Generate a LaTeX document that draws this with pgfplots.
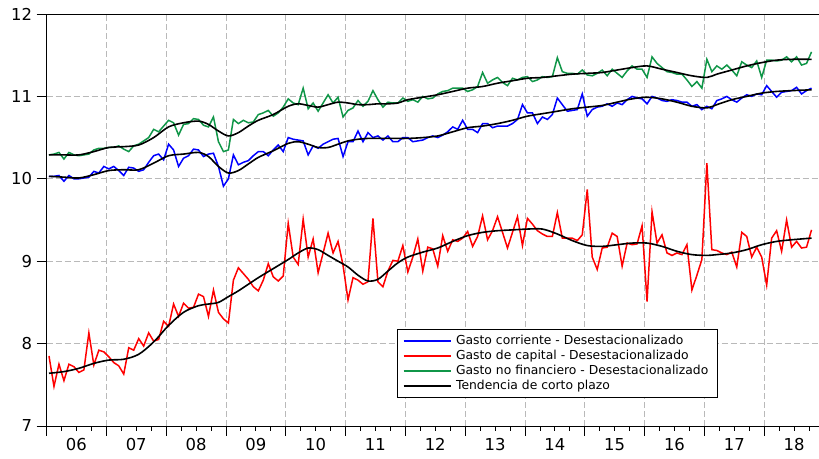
\documentclass[border=0pt]{standalone}
\usepackage{fontspec}
\setmainfont{DejaVu Sans}
\usepackage{pgfplots}
\usepackage{pgfplotstable}
\pgfplotsset{compat=1.18}
\definecolor{cblue}{RGB}{0,0,255}
\definecolor{cred}{RGB}{255,0,0}
\definecolor{cgreen}{RGB}{16,150,72}

\pgfplotstableread{
m b r g
0 10.03 7.85 10.29
1 10.03 7.48 10.30
2 10.04 7.75 10.32
3 9.97 7.55 10.24
4 10.04 7.75 10.32
5 10.00 7.72 10.29
6 10.00 7.65 10.28
7 10.01 7.68 10.29
8 10.02 8.13 10.30
9 10.09 7.74 10.35
10 10.07 7.92 10.37
11 10.15 7.90 10.37
12 10.12 7.84 10.38
13 10.15 7.77 10.38
14 10.10 7.73 10.40
15 10.04 7.63 10.36
16 10.14 7.95 10.33
17 10.13 7.92 10.40
18 10.09 8.06 10.42
19 10.11 7.97 10.46
20 10.20 8.13 10.50
21 10.28 8.03 10.60
22 10.30 8.05 10.57
23 10.23 8.27 10.64
24 10.42 8.21 10.71
25 10.35 8.48 10.68
26 10.15 8.33 10.53
27 10.25 8.49 10.66
28 10.28 8.43 10.67
29 10.36 8.44 10.73
30 10.35 8.60 10.72
31 10.27 8.57 10.65
32 10.30 8.33 10.63
33 10.31 8.65 10.75
34 10.15 8.38 10.45
35 9.91 8.30 10.33
36 10.00 8.25 10.35
37 10.29 8.77 10.72
38 10.17 8.92 10.67
39 10.20 8.85 10.71
40 10.22 8.78 10.68
41 10.28 8.69 10.69
42 10.33 8.64 10.78
43 10.33 8.77 10.80
44 10.28 8.97 10.83
45 10.35 8.81 10.76
46 10.41 8.76 10.80
47 10.33 8.82 10.87
48 10.50 9.46 10.97
49 10.48 9.05 10.92
50 10.47 8.96 10.90
51 10.46 9.51 11.10
52 10.29 9.05 10.85
53 10.40 9.27 10.92
54 10.37 8.86 10.82
55 10.42 9.10 10.92
56 10.45 9.34 11.02
57 10.48 9.10 10.92
58 10.49 9.24 10.99
59 10.27 8.95 10.75
60 10.45 8.53 10.83
61 10.45 8.80 10.86
62 10.58 8.77 10.95
63 10.45 8.72 10.88
64 10.56 8.75 10.94
65 10.50 9.52 11.07
66 10.52 8.75 10.96
67 10.47 8.69 10.87
68 10.52 8.88 10.93
69 10.45 9.01 10.92
70 10.45 9.00 10.92
71 10.50 9.19 10.98
72 10.50 8.87 10.94
73 10.45 9.05 10.96
74 10.46 9.27 10.93
75 10.47 8.88 11.00
76 10.50 9.17 10.97
77 10.52 9.15 10.98
78 10.50 8.94 11.03
79 10.53 9.31 11.06
80 10.57 9.12 11.07
81 10.63 9.26 11.10
82 10.60 9.24 11.10
83 10.71 9.28 11.10
84 10.60 9.36 11.06
85 10.60 9.18 11.08
86 10.56 9.30 11.12
87 10.67 9.55 11.29
88 10.67 9.26 11.16
89 10.62 9.37 11.20
90 10.64 9.54 11.23
91 10.64 9.35 11.17
92 10.64 9.16 11.13
93 10.67 9.35 11.22
94 10.72 9.54 11.20
95 10.90 9.19 11.23
96 10.80 9.52 11.24
97 10.80 9.45 11.18
98 10.67 9.37 11.20
99 10.75 9.33 11.24
100 10.72 9.30 11.23
101 10.78 9.30 11.24
102 10.98 9.59 11.47
103 10.90 9.28 11.30
104 10.82 9.28 11.28
105 10.83 9.28 11.28
106 10.84 9.25 11.27
107 11.03 9.32 11.32
108 10.76 9.87 11.26
109 10.84 9.05 11.25
110 10.87 8.90 11.28
111 10.88 9.16 11.32
112 10.91 9.17 11.25
113 10.88 9.34 11.33
114 10.92 9.30 11.28
115 10.90 8.94 11.23
116 10.96 9.22 11.31
117 11.00 9.20 11.37
118 10.98 9.21 11.33
119 10.97 9.43 11.33
120 10.91 8.51 11.23
121 11.00 9.60 11.48
122 10.98 9.22 11.40
123 10.95 9.32 11.35
124 10.94 9.10 11.30
125 10.96 9.07 11.29
126 10.95 9.10 11.27
127 10.93 9.08 11.27
128 10.93 9.20 11.20
129 10.88 8.65 11.12
130 10.90 8.83 11.18
131 10.84 9.02 11.10
132 10.88 10.19 11.45
133 10.85 9.14 11.30
134 10.95 9.13 11.37
135 10.97 9.10 11.33
136 11.00 9.08 11.38
137 10.96 9.11 11.32
138 10.93 8.93 11.25
139 10.98 9.35 11.42
140 11.02 9.30 11.38
141 11.00 9.05 11.35
142 11.03 9.17 11.43
143 11.02 9.05 11.23
144 11.13 8.71 11.44
145 11.06 9.28 11.44
146 10.99 9.37 11.43
147 11.05 9.12 11.44
148 11.06 9.50 11.48
149 11.07 9.17 11.42
150 11.11 9.24 11.48
151 11.03 9.16 11.38
152 11.07 9.17 11.40
153 11.10 9.38 11.54
}\datatab

\pgfplotstableread{
m bt rt gt
0 10.03 7.64 10.29
3 10.02 7.66 10.29
6 10.01 7.70 10.29
9 10.05 7.76 10.33
12 10.10 7.80 10.38
15 10.11 7.81 10.39
18 10.11 7.87 10.41
21 10.19 8.02 10.50
24 10.28 8.22 10.63
27 10.30 8.38 10.68
30 10.32 8.46 10.70
32 10.27 8.48 10.66
34 10.15 8.50 10.58
36 10.07 8.57 10.52
38 10.10 8.64 10.56
40 10.18 8.72 10.64
42 10.26 8.80 10.71
45 10.34 8.91 10.78
48 10.43 9.02 10.88
50 10.45 9.10 10.91
52 10.42 9.16 10.89
54 10.38 9.14 10.87
56 10.38 9.07 10.90
58 10.42 9.00 10.93
60 10.46 8.93 10.92
62 10.48 8.83 10.90
64 10.49 8.76 10.90
66 10.49 8.78 10.91
68 10.49 8.88 10.91
70 10.49 8.98 10.92
72 10.49 9.05 10.96
75 10.50 9.11 10.99
78 10.52 9.16 11.02
81 10.57 9.24 11.06
84 10.62 9.31 11.10
87 10.64 9.35 11.12
90 10.67 9.37 11.16
93 10.71 9.38 11.19
96 10.76 9.39 11.22
99 10.79 9.39 11.23
102 10.82 9.33 11.25
105 10.85 9.25 11.27
108 10.87 9.19 11.28
111 10.89 9.18 11.29
114 10.93 9.20 11.32
117 10.97 9.22 11.35
120 10.99 9.22 11.37
123 10.97 9.18 11.33
126 10.93 9.12 11.29
129 10.88 9.08 11.25
132 10.86 9.07 11.23
134 10.90 9.08 11.27
137 10.96 9.10 11.32
140 11.00 9.14 11.37
143 11.04 9.20 11.41
146 11.06 9.24 11.44
149 11.07 9.26 11.45
153 11.08 9.28 11.45
}\trendtab

\begin{document}
\begin{tikzpicture}
\begin{axis}[
  scale only axis,
  width=772.5bp, height=412bp,
  xmin=-0.5, xmax=154.5, ymin=7, ymax=12,
  axis x line*=bottom, axis y line*=left,
  axis line style={black, line width=0.9pt},
  xtick={-0.5,11.5,...,143.5},
  xticklabels={},
  minor xtick={2.5,5.5,...,152.5},
  ytick={7,8,...,12},
  tick align=outside,
  major tick length=10bp, minor tick length=5bp,
  tick style={black, line width=0.8pt},
  xmajorgrids, ymajorgrids,
  grid style={dash pattern=on 6bp off 3bp, gray!55, line width=0.7pt},
  ticklabel style={font=\fontsize{16.5}{16.5}\selectfont},
  /pgf/number format/assume math mode=true,
  yticklabel style={xshift=-1bp},
  extra x ticks={5.5,17.5,...,149.5},
  extra x tick labels={06,07,08,09,10,11,12,13,14,15,16,17,18},
  extra x tick style={major tick length=0pt, grid=none,
     tick label style={yshift=-9bp}},
  clip=false,
  legend style={at={(0.454,0.235)}, anchor=north west, draw=black,
     line width=0.7pt, fill=white,
     font=\fontsize{12.4}{15.3}\selectfont,
     inner xsep=5bp, inner ysep=4bp, row sep=0bp,
     legend cell align=left,
     nodes={inner xsep=4.5bp}},
  legend image code/.code={\draw[#1, line width=2bp] (0bp,0bp) -- (47bp,0bp);},
]
\addplot[cblue, line width=1.5bp] table[x=m, y=b] {\datatab};
\addlegendentry{Gasto corriente - Desestacionalizado}
\addplot[cred, line width=1.5bp] table[x=m, y=r] {\datatab};
\addlegendentry{Gasto de capital - Desestacionalizado}
\addplot[cgreen, line width=1.5bp] table[x=m, y=g] {\datatab};
\addlegendentry{Gasto no financiero - Desestacionalizado}
\addplot[black, line width=1.6bp, smooth] table[x=m, y=bt] {\trendtab};
\addlegendentry{Tendencia de corto plazo}
\addplot[black, line width=1.6bp, smooth, forget plot] table[x=m, y=rt] {\trendtab};
\addplot[black, line width=1.6bp, smooth, forget plot] table[x=m, y=gt] {\trendtab};
\draw[black, line width=0.9pt] (rel axis cs:0,1) -- (rel axis cs:1,1);
\coordinate (ll) at (rel axis cs:0,0);
\coordinate (ur) at (rel axis cs:1,1);
\end{axis}
\pgfresetboundingbox
\path (ll) ++(-46.5bp,-33bp) coordinate (bbA);
\path (ur) ++(0bp,14bp) coordinate (bbB);
\path[use as bounding box] (bbA) rectangle (bbB);
\end{tikzpicture}
\end{document}
